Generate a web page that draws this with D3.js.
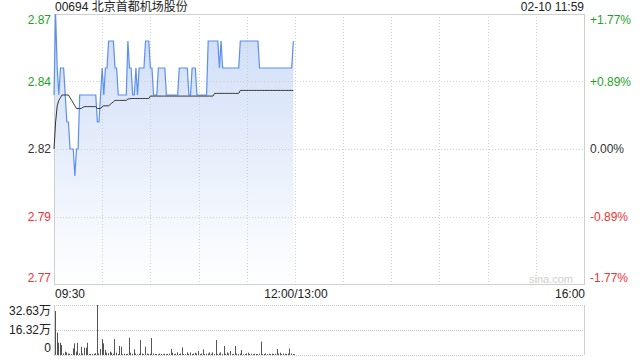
<!DOCTYPE html>
<html>
<head>
<meta charset="utf-8">
<script src="https://cdn.jsdelivr.net/npm/d3@7"></script>
<style>
  body { margin: 0; background: #fff; }
  svg text { font-family: Arial, "Liberation Sans", "Noto Sans CJK SC", sans-serif; font-size: 12px; }
</style>
</head>
<body>
<script>
// chart data
const stockTitle = "00694 北京首都机场股份";
const stampText = "02-10 11:59";
const prevClose = 2.82;

const priceTicks = [2.87, 2.845, 2.82, 2.795, 2.77];
const priceLabels = ["2.87", "2.84", "2.82", "2.79", "2.77"];
const pctLabels = ["+1.77%", "+0.89%", "0.00%", "-0.89%", "-1.77%"];

const gridMinutes = [0, 30, 60, 90, 120, 150, 180, 210, 240, 270, 300, 330];
const timeTickMinutes = [0, 150, 330];
const timeLabels = ["09:30", "12:00/13:00", "16:00"];

const volTicks = [32.63, 16.32, 0];
const volLabels = ["32.63万", "16.32万", "0"];

// one point per minute from 09:30 to 11:59
const prices = [
  2.84, 2.87, 2.85, 2.84, 2.85, 2.85, 2.85, 2.84, 2.83, 2.83,
  2.82, 2.82, 2.82, 2.81, 2.82, 2.82, 2.84, 2.84, 2.84, 2.84,
  2.84, 2.84, 2.84, 2.84, 2.84, 2.84, 2.84, 2.83, 2.83, 2.84,
  2.85, 2.84, 2.85, 2.85, 2.86, 2.86, 2.86, 2.86, 2.85, 2.85,
  2.84, 2.84, 2.84, 2.84, 2.84, 2.84, 2.86, 2.85, 2.85, 2.84,
  2.84, 2.85, 2.84, 2.85, 2.85, 2.85, 2.85, 2.86, 2.86, 2.86,
  2.85, 2.85, 2.84, 2.84, 2.84, 2.85, 2.85, 2.85, 2.85, 2.85,
  2.84, 2.84, 2.84, 2.84, 2.84, 2.84, 2.84, 2.84, 2.85, 2.85,
  2.85, 2.85, 2.85, 2.85, 2.84, 2.84, 2.85, 2.85, 2.85, 2.84,
  2.84, 2.84, 2.84, 2.84, 2.84, 2.84, 2.86, 2.86, 2.86, 2.86,
  2.86, 2.86, 2.86, 2.85, 2.86, 2.85, 2.85, 2.85, 2.85, 2.85,
  2.85, 2.85, 2.85, 2.85, 2.85, 2.85, 2.86, 2.86, 2.86, 2.86,
  2.86, 2.86, 2.86, 2.86, 2.86, 2.86, 2.86, 2.86, 2.85, 2.85,
  2.85, 2.85, 2.85, 2.85, 2.85, 2.85, 2.85, 2.85, 2.85, 2.85,
  2.85, 2.85, 2.85, 2.85, 2.85, 2.85, 2.85, 2.85, 2.85, 2.86
];

const avgPrices = [
  2.820, 2.830, 2.836, 2.838, 2.839, 2.840, 2.840, 2.840, 2.840, 2.840,
  2.839, 2.838, 2.837, 2.836, 2.835, 2.835, 2.835, 2.835, 2.8355, 2.8357,
  2.8357, 2.8357, 2.8357, 2.8357, 2.8357, 2.8357, 2.8357, 2.835, 2.835, 2.835,
  2.8357, 2.836, 2.836, 2.836, 2.836, 2.8365, 2.837, 2.8375, 2.838, 2.838,
  2.838, 2.838, 2.838, 2.838, 2.838, 2.838, 2.8385, 2.8386, 2.8387, 2.8387,
  2.8387, 2.8387, 2.8387, 2.8387, 2.8387, 2.8387, 2.8387, 2.8387, 2.8387, 2.8387,
  2.8396, 2.8396, 2.8396, 2.8396, 2.8396, 2.8396, 2.8396, 2.8396, 2.8396, 2.8396,
  2.8396, 2.8396, 2.8396, 2.8396, 2.8396, 2.8396, 2.8396, 2.8396, 2.8396, 2.8396,
  2.8396, 2.8396, 2.8396, 2.8396, 2.8396, 2.8396, 2.8396, 2.8396, 2.8396, 2.8396,
  2.8396, 2.8396, 2.8396, 2.8396, 2.8396, 2.8396, 2.8396, 2.8396, 2.8396, 2.8396,
  2.8406, 2.8406, 2.8406, 2.8406, 2.8406, 2.8406, 2.8406, 2.8406, 2.8406, 2.8406,
  2.8406, 2.8406, 2.8406, 2.8406, 2.8406, 2.8406, 2.8417, 2.8417, 2.8417, 2.8417,
  2.8417, 2.8417, 2.8417, 2.8417, 2.8417, 2.8417, 2.8417, 2.8417, 2.8417, 2.8417,
  2.8417, 2.8417, 2.8417, 2.8417, 2.8417, 2.8417, 2.8417, 2.8417, 2.8417, 2.8417,
  2.8417, 2.8417, 2.8417, 2.8417, 2.8417, 2.8417, 2.8417, 2.8417, 2.8417, 2.8417
];

// volume in 万
const volumes = [
  28.7, 14.6, 8.0, 8.0, 6.5, 1.0, 2.2, 1.7, 1.0, 0.8,
  0.6, 4.3, 7.6, 2.2, 8.0, 1.0, 5.4, 1.0, 4.8, 4.8,
  8.0, 0.5, 0.7, 0.6, 0.8, 1.2, 32.63, 1.0, 3.9, 10.4,
  7.6, 3.3, 1.5, 1.2, 2.2, 1.5, 0.8, 10.4, 1.5, 0.6,
  5.9, 5.4, 0.5, 0.8, 0.6, 0.7, 11.1, 1.5, 0.8, 3.7,
  1.0, 0.5, 0.8, 9.8, 1.0, 0.6, 5.4, 1.0, 0.6, 0.8,
  11.1, 1.0, 0.7, 0.6, 0.5, 0.9, 0.7, 0.6, 0.8, 0.6,
  0.7, 0.9, 3.9, 1.5, 0.6, 0.8, 1.7, 0.6, 1.0, 5.0,
  0.7, 0.5, 1.7, 0.8, 1.7, 0.6, 1.0, 1.5, 1.0, 2.6,
  0.6, 1.0, 3.7, 0.7, 0.9, 1.0, 1.7, 0.8, 1.7, 0.6,
  9.8, 0.7, 1.0, 1.7, 0.6, 5.9, 0.8, 1.7, 1.0, 2.6,
  0.5, 0.8, 5.9, 1.0, 0.7, 0.9, 3.3, 0.5, 0.6, 1.0,
  1.5, 0.7, 0.8, 0.6, 0.9, 0.7, 0.6, 0.8, 8.7, 0.5,
  0.7, 1.0, 0.6, 0.8, 0.6, 0.9, 0.7, 0.8, 3.9, 1.0,
  1.5, 0.6, 1.0, 0.8, 0.7, 1.0, 4.3, 1.0, 0.7, 0.5
];

const width = 640, height = 360;
const plotLeft = 54, plotRight = 584;
const plotTop = 14, plotBottom = 284;
const volTop = 305, volBottom = 355;

const upColor = "#1fa31f", downColor = "#f03333", flatColor = "#333";
const gridColor = "#cfcfcf";

function signColor(v) {
  if (v > prevClose + 1e-9) return upColor;
  if (v < prevClose - 1e-9) return downColor;
  return flatColor;
}

let svg = d3.select("body").append("svg")
  .attr("width", width)
  .attr("height", height);

let x = d3.scaleLinear().domain([0, 330]).range([plotLeft, plotRight]);
let y = d3.scaleLinear().domain([2.77, 2.87]).range([plotBottom, plotTop]);
let yv = d3.scaleLinear().domain([0, 32.63]).range([volBottom, volTop]);

let defs = svg.append("defs");
let grad = defs.append("linearGradient")
  .attr("id", "areaFill")
  .attr("gradientUnits", "userSpaceOnUse")
  .attr("x1", 0).attr("y1", plotTop)
  .attr("x2", 0).attr("y2", plotBottom);
grad.append("stop").attr("offset", 0).attr("stop-color", "#cddcf7");
grad.append("stop").attr("offset", 1).attr("stop-color", "#ffffff");

// header
svg.append("text")
  .attr("x", 55).attr("y", 11)
  .attr("fill", "#222")
  .text(stockTitle);
svg.append("text")
  .attr("x", plotRight).attr("y", 11)
  .attr("text-anchor", "end")
  .attr("fill", "#222")
  .text(stampText);

// price area + lines
let pts = prices.map((p, i) => ({ m: i, p: p, a: avgPrices[i], v: volumes[i] }));

svg.append("path")
  .datum(pts)
  .attr("fill", "url(#areaFill)")
  .attr("d", d3.area().x(d => x(d.m)).y0(plotBottom).y1(d => y(d.p)));

// grid
let grid = svg.append("g");
grid.selectAll(".hgrid")
  .data(priceTicks.slice(1, 4))
  .enter().append("line")
  .attr("x1", plotLeft).attr("x2", plotRight)
  .attr("y1", d => Math.round(y(d)) + 0.5)
  .attr("y2", d => Math.round(y(d)) + 0.5)
  .attr("stroke", gridColor)
  .attr("stroke-dasharray", "1,2");
grid.selectAll(".vgrid")
  .data(gridMinutes.slice(1, -1))
  .enter().append("line")
  .attr("x1", d => Math.round(x(d)) + 0.5)
  .attr("x2", d => Math.round(x(d)) + 0.5)
  .attr("y1", plotTop).attr("y2", plotBottom)
  .attr("stroke", gridColor)
  .attr("stroke-dasharray", "1,2");

svg.append("rect")
  .attr("x", plotLeft + 0.5).attr("y", plotTop + 0.5)
  .attr("width", plotRight - plotLeft).attr("height", plotBottom - plotTop)
  .attr("fill", "none")
  .attr("stroke", gridColor);

svg.append("path")
  .datum(pts)
  .attr("fill", "none")
  .attr("stroke", "#5b8ff0")
  .attr("stroke-width", 1.2)
  .attr("d", d3.line().x(d => x(d.m)).y(d => y(d.p)));

svg.append("path")
  .datum(pts)
  .attr("fill", "none")
  .attr("stroke", "#333")
  .attr("stroke-width", 1)
  .attr("d", d3.line().x(d => x(d.m)).y(d => y(d.a)));

// price labels (left) and percent labels (right)
let offs = [6, 0, 0, 0, -6];
let yAxisL = d3.axisLeft(y).tickValues(priceTicks)
  .tickFormat((d, i) => priceLabels[i]).tickSize(0).tickPadding(3);
let gl = svg.append("g").attr("transform", "translate(" + plotLeft + ",0)").call(yAxisL);
gl.select(".domain").remove();
gl.selectAll("text")
  .attr("fill", d => signColor(d))
  .attr("transform", (d, i) => "translate(0," + offs[i] + ")")
  .style("font-size", "12px");

let yAxisR = d3.axisRight(y).tickValues(priceTicks)
  .tickFormat((d, i) => pctLabels[i]).tickSize(0).tickPadding(6);
let gr = svg.append("g").attr("transform", "translate(" + plotRight + ",0)").call(yAxisR);
gr.select(".domain").remove();
gr.selectAll("text")
  .attr("fill", d => signColor(d))
  .attr("transform", (d, i) => "translate(0," + offs[i] + ")")
  .style("font-size", "12px");

// time labels
let anchors = ["start", "middle", "end"];
let shifts = [1, 1, 1];
svg.selectAll(".tlabel")
  .data(timeTickMinutes)
  .enter().append("text")
  .attr("x", (d, i) => x(d) + shifts[i])
  .attr("y", 298)
  .attr("text-anchor", (d, i) => anchors[i])
  .attr("fill", "#222")
  .text((d, i) => timeLabels[i]);

// watermark
svg.append("text")
  .attr("x", 573).attr("y", 283)
  .attr("text-anchor", "end")
  .attr("fill", "#d0d0d0")
  .style("font-size", "11px")
  .text("sina.com");

// volume panel
svg.selectAll(".vgridh")
  .data(volTicks)
  .enter().append("line")
  .attr("x1", plotLeft).attr("x2", plotRight)
  .attr("y1", d => Math.round(yv(d)) + 0.5)
  .attr("y2", d => Math.round(yv(d)) + 0.5)
  .attr("stroke", "#c8c8c8")
  .attr("stroke-dasharray", "1,1");
svg.append("line")
  .attr("x1", plotLeft + 0.5).attr("x2", plotLeft + 0.5)
  .attr("y1", volTop).attr("y2", volBottom)
  .attr("stroke", gridColor);
svg.append("line")
  .attr("x1", plotRight + 0.5).attr("x2", plotRight + 0.5)
  .attr("y1", volTop).attr("y2", volBottom)
  .attr("stroke", gridColor);

svg.selectAll(".vbar")
  .data(pts)
  .enter().append("rect")
  .attr("x", d => Math.round(x(d.m)) + 1)
  .attr("width", 1)
  .attr("y", d => yv(d.v))
  .attr("height", d => volBottom - yv(d.v))
  .attr("fill", "#555");

let vOffs = [6, 0, -7];
svg.selectAll(".vlabel")
  .data(volTicks)
  .enter().append("text")
  .attr("x", 51)
  .attr("y", (d, i) => yv(d) + vOffs[i])
  .attr("dy", "0.35em")
  .attr("text-anchor", "end")
  .attr("fill", "#222")
  .text((d, i) => volLabels[i]);
</script>
</body>
</html>
